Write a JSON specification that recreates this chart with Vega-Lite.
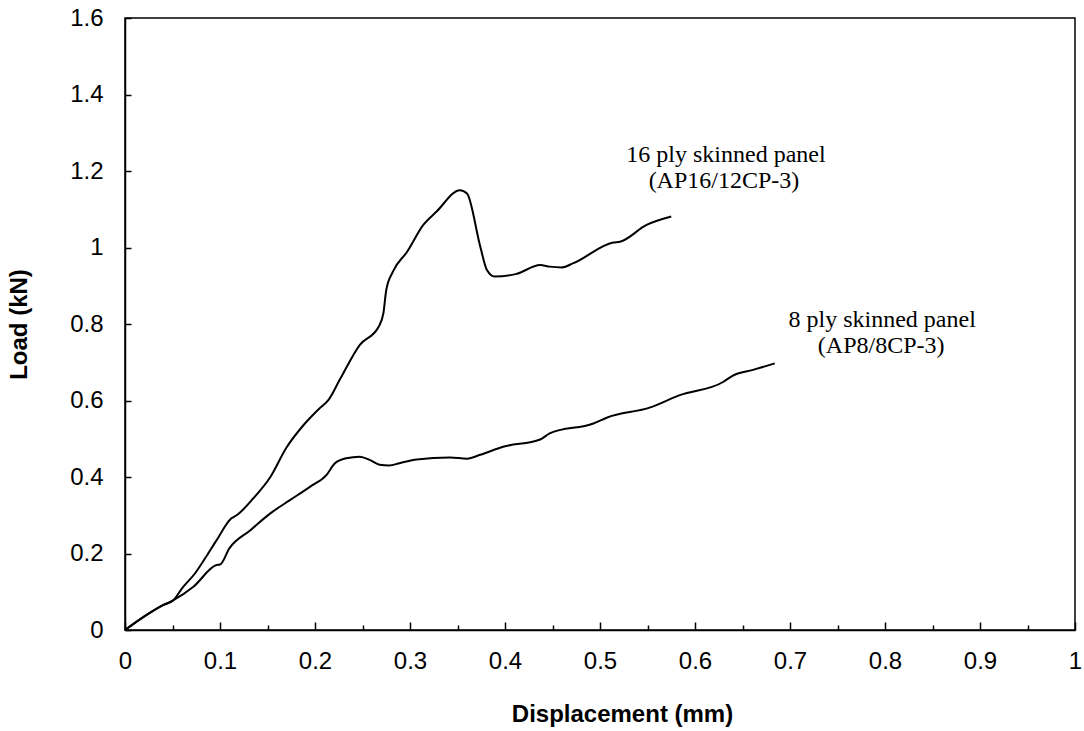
{
  "$schema": "https://vega.github.io/schema/vega-lite/v6.json",
  "width": 950,
  "height": 612,
  "autosize": {"type": "none"},
  "padding": {"left": 125, "top": 18, "right": 9, "bottom": 101},
  "background": "white",
  "config": {
    "view": {"stroke": "black", "strokeWidth": 1.5},
    "axis": {
      "grid": false,
      "domainColor": "black",
      "domainWidth": 1.5,
      "tickColor": "black",
      "tickWidth": 1.5,
      "labelFont": "Liberation Sans",
      "labelFontSize": 24,
      "labelColor": "black",
      "titleFont": "Liberation Sans",
      "titleFontSize": 24,
      "titleFontWeight": "bold",
      "titleColor": "black"
    }
  },
  "datasets": {
    "curves": [
      {"series": "16 ply", "x": 0, "y": 0},
      {"series": "16 ply", "x": 0.02, "y": 0.035},
      {"series": "16 ply", "x": 0.04, "y": 0.065},
      {"series": "16 ply", "x": 0.051, "y": 0.078},
      {"series": "16 ply", "x": 0.06, "y": 0.109},
      {"series": "16 ply", "x": 0.074, "y": 0.149},
      {"series": "16 ply", "x": 0.085, "y": 0.19},
      {"series": "16 ply", "x": 0.0965, "y": 0.235},
      {"series": "16 ply", "x": 0.112, "y": 0.292},
      {"series": "16 ply", "x": 0.1175, "y": 0.3},
      {"series": "16 ply", "x": 0.135, "y": 0.344},
      {"series": "16 ply", "x": 0.153, "y": 0.4},
      {"series": "16 ply", "x": 0.17, "y": 0.477},
      {"series": "16 ply", "x": 0.188, "y": 0.536},
      {"series": "16 ply", "x": 0.205, "y": 0.58},
      {"series": "16 ply", "x": 0.214, "y": 0.601},
      {"series": "16 ply", "x": 0.226, "y": 0.654},
      {"series": "16 ply", "x": 0.247, "y": 0.745},
      {"series": "16 ply", "x": 0.267, "y": 0.793},
      {"series": "16 ply", "x": 0.272, "y": 0.828},
      {"series": "16 ply", "x": 0.275, "y": 0.889},
      {"series": "16 ply", "x": 0.282, "y": 0.937},
      {"series": "16 ply", "x": 0.297, "y": 0.989},
      {"series": "16 ply", "x": 0.314, "y": 1.059},
      {"series": "16 ply", "x": 0.328, "y": 1.094},
      {"series": "16 ply", "x": 0.3526, "y": 1.15},
      {"series": "16 ply", "x": 0.36, "y": 1.141},
      {"series": "16 ply", "x": 0.374, "y": 1.002},
      {"series": "16 ply", "x": 0.381, "y": 0.941},
      {"series": "16 ply", "x": 0.389, "y": 0.924},
      {"series": "16 ply", "x": 0.412, "y": 0.931},
      {"series": "16 ply", "x": 0.437, "y": 0.954},
      {"series": "16 ply", "x": 0.447, "y": 0.95},
      {"series": "16 ply", "x": 0.46, "y": 0.948},
      {"series": "16 ply", "x": 0.472, "y": 0.959},
      {"series": "16 ply", "x": 0.514, "y": 1.013},
      {"series": "16 ply", "x": 0.521, "y": 1.015},
      {"series": "16 ply", "x": 0.549, "y": 1.059},
      {"series": "16 ply", "x": 0.575, "y": 1.081},
      {"series": "8 ply", "x": 0, "y": 0},
      {"series": "8 ply", "x": 0.02, "y": 0.035},
      {"series": "8 ply", "x": 0.04, "y": 0.065},
      {"series": "8 ply", "x": 0.051, "y": 0.078},
      {"series": "8 ply", "x": 0.072, "y": 0.113},
      {"series": "8 ply", "x": 0.0965, "y": 0.17},
      {"series": "8 ply", "x": 0.1, "y": 0.171},
      {"series": "8 ply", "x": 0.11, "y": 0.214},
      {"series": "8 ply", "x": 0.132, "y": 0.261},
      {"series": "8 ply", "x": 0.153, "y": 0.305},
      {"series": "8 ply", "x": 0.174, "y": 0.34},
      {"series": "8 ply", "x": 0.195, "y": 0.375},
      {"series": "8 ply", "x": 0.212, "y": 0.405},
      {"series": "8 ply", "x": 0.221, "y": 0.436},
      {"series": "8 ply", "x": 0.233, "y": 0.449},
      {"series": "8 ply", "x": 0.247, "y": 0.453},
      {"series": "8 ply", "x": 0.258, "y": 0.444},
      {"series": "8 ply", "x": 0.268, "y": 0.432},
      {"series": "8 ply", "x": 0.278, "y": 0.43},
      {"series": "8 ply", "x": 0.289, "y": 0.436},
      {"series": "8 ply", "x": 0.307, "y": 0.446},
      {"series": "8 ply", "x": 0.342, "y": 0.451},
      {"series": "8 ply", "x": 0.36, "y": 0.448},
      {"series": "8 ply", "x": 0.374, "y": 0.458},
      {"series": "8 ply", "x": 0.398, "y": 0.479},
      {"series": "8 ply", "x": 0.437, "y": 0.498},
      {"series": "8 ply", "x": 0.447, "y": 0.514},
      {"series": "8 ply", "x": 0.493, "y": 0.54},
      {"series": "8 ply", "x": 0.507, "y": 0.555},
      {"series": "8 ply", "x": 0.553, "y": 0.582},
      {"series": "8 ply", "x": 0.584, "y": 0.614},
      {"series": "8 ply", "x": 0.63, "y": 0.649},
      {"series": "8 ply", "x": 0.639, "y": 0.664},
      {"series": "8 ply", "x": 0.661, "y": 0.68},
      {"series": "8 ply", "x": 0.684, "y": 0.697}
    ],
    "labels": [
      {"x": 0.6326, "y": 1.2235, "text": "16 ply skinned panel"},
      {"x": 0.6305, "y": 1.1556, "text": "(AP16/12CP-3)"},
      {"x": 0.797, "y": 0.792, "text": "8 ply skinned panel"},
      {"x": 0.796, "y": 0.7242, "text": "(AP8/8CP-3)"}
    ]
  },
  "layer": [
    {
      "data": {"name": "curves"},
      "mark": {"type": "line", "interpolate": "monotone", "strokeWidth": 2, "color": "black"},
      "encoding": {
        "x": {
          "field": "x",
          "type": "quantitative",
          "scale": {"domain": [0, 1], "nice": false},
          "axis": {
            "title": "Displacement (mm)",
            "values": [0, 0.05, 0.1, 0.15, 0.2, 0.25, 0.3, 0.35, 0.4, 0.45, 0.5, 0.55, 0.6, 0.65, 0.7, 0.75, 0.8, 0.85, 0.9, 0.95, 1],
            "labelExpr": "round(datum.value*100) % 10 == 0 ? format(datum.value, '~g') : ''",
            "tickSize": {"condition": {"test": "round(datum.value*100) % 10 == 0", "value": -8}, "value": -5},
            "labelPadding": 27,
            "labelFlush": false,
            "labelOverlap": false,
            "titlePadding": 26,
            "titleX": 497
          }
        },
        "y": {
          "field": "y",
          "type": "quantitative",
          "scale": {"domain": [0, 1.6], "nice": false},
          "axis": {
            "title": "Load (kN)",
            "values": [0, 0.1, 0.2, 0.3, 0.4, 0.5, 0.6, 0.7, 0.8, 0.9, 1, 1.1, 1.2, 1.3, 1.4, 1.5, 1.6],
            "labelExpr": "round(datum.value*10) % 2 == 0 ? format(datum.value, '~g') : ''",
            "tickSize": -6,
            "labelPadding": 28,
            "labelFlush": false,
            "labelOverlap": false,
            "titlePadding": 38
          }
        },
        "detail": {"field": "series", "type": "nominal"}
      }
    },
    {
      "data": {"name": "labels"},
      "mark": {"type": "text", "font": "Liberation Serif", "fontSize": 24, "align": "center", "baseline": "alphabetic", "color": "black"},
      "encoding": {
        "x": {"field": "x", "type": "quantitative"},
        "y": {"field": "y", "type": "quantitative"},
        "text": {"field": "text", "type": "nominal"}
      }
    }
  ]
}
